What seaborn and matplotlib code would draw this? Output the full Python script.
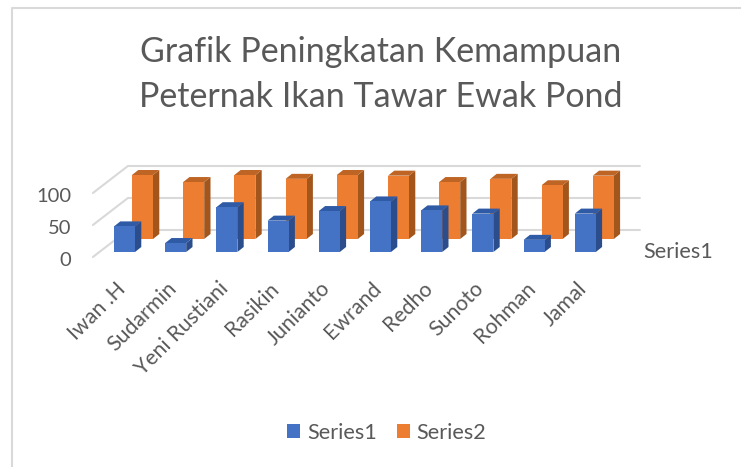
import matplotlib
matplotlib.use("Agg")
import matplotlib.pyplot as plt
import matplotlib.transforms as mtrans
from matplotlib.lines import Line2D
from matplotlib.patches import Patch, Polygon
import pandas as pd
import seaborn as sns

names = ["Iwan .H", "Sudarmin", "Yeni Rustiani", "Rasikin", "Junianto",
         "Ewrand", "Redho", "Sunoto", "Rohman", "Jamal"]
series1 = [40, 14, 70, 49, 64, 79, 65, 60, 19, 60]
series2 = [100, 89, 100, 94, 100, 99, 89, 94, 84, 99]
y_ticks = [0, 50, 100]

TEXT = "#595959"
GRID = "#D9D9D9"
FRONT = {"Series1": "#4472C4", "Series2": "#ED7D31"}
SIDE = {"Series1": "#2B4D8C", "Series2": "#A2561C"}
TOP = {"Series1": "#2F5AA6", "Series2": "#BE6424"}

sns.set_theme(style="white")
plt.rcParams["font.family"] = ["Lato", "DejaVu Sans"]

df = pd.DataFrame({"name": names * 2,
                   "value": series1 + series2,
                   "series": ["Series1"] * len(names) + ["Series2"] * len(names)})

W, H = 741, 467
fig = plt.figure(figsize=(W / 100, H / 100), dpi=100)
# the axes is the plane of the front bars: 51.2 px per category, 0.64 px per unit
ax = fig.add_axes([98.9 / W, (H - 252) / H, 512 / W, 152 / H])
px_x = 1 / 51.2
px_y = 1 / 0.64

sns.barplot(data=df, x="name", y="value", hue="series", order=names, dodge=False,
            width=0.41, saturation=1, palette=FRONT, legend=False, linewidth=0,
            edgecolor="none", ax=ax)
ax.set_xlim(-0.5, 9.5)
ax.set_ylim(0, 152 * px_y)


def add_depth(container, series, shift_x, shift_y, z):
    # move the front face to its row, then add the side and top faces
    dx, dy = 6.3 * px_x, 5 * px_y
    for bar in container:
        bar.set_x(bar.get_x() + shift_x)
        bar.set_y(bar.get_y() + shift_y)
        bar.set_zorder(z + 0.2)
        bar.set_clip_on(False)
        x0, x1 = bar.get_x(), bar.get_x() + bar.get_width()
        y0, y1 = bar.get_y(), bar.get_y() + bar.get_height()
        ax.add_patch(Polygon([(x1, y0), (x1 + dx, y0 + dy), (x1 + dx, y1 + dy), (x1, y1)],
                             fc=SIDE[series], ec="none", zorder=z, clip_on=False))
        ax.add_patch(Polygon([(x0, y1), (x0 + dx, y1 + dy), (x1 + dx, y1 + dy), (x1, y1)],
                             fc=TOP[series], ec="none", zorder=z + 0.1, clip_on=False))


add_depth(ax.containers[1], "Series2", 18 * px_x, 13 * px_y, 3)
add_depth(ax.containers[0], "Series1", 0, 0, 4)

# gridlines on the back wall and the left side wall
back_x, back_y = 29 * px_x, 22 * px_y
front_x, front_y = -6 * px_x, -5 * px_y
for v in y_ticks:
    ax.plot([-0.5 + front_x, -0.5 + back_x, 9.5 + back_x],
            [v + front_y, v + back_y, v + back_y],
            color=GRID, lw=1.5, zorder=1, clip_on=False)

sns.despine(ax=ax, left=True, bottom=True)
ax.set_xlabel("")
ax.set_ylabel("")
ax.set_yticks(y_ticks)
ax.tick_params(axis="y", length=0, pad=20, labelsize=14.5, labelcolor=TEXT)
ax.tick_params(axis="x", length=0, pad=19, labelsize=15.3, labelcolor=TEXT)
for label in ax.get_yticklabels():
    label.set_transform(label.get_transform()
                        + mtrans.ScaledTranslation(0, -7 / 100, fig.dpi_scale_trans))
ax.set_xticks(range(len(names)), names, rotation=45, ha="right", rotation_mode="anchor")
for label in ax.get_xticklabels():
    label.set_transform(label.get_transform()
                        + mtrans.ScaledTranslation(-9 / 100, 0, fig.dpi_scale_trans))

fig.text(643 / W, 1 - 252 / H, "Series1", color=TEXT, fontsize=15.6, ha="left", va="center")
fig.text(381 / W, 1 - 74.5 / H, "Grafik Peningkatan Kemampuan\nPeternak Ikan Tawar Ewak Pond",
         color=TEXT, fontsize=24.5, ha="center", va="center", linespacing=1.48)

handles = [Patch(fc=FRONT[s], ec="none") for s in FRONT]
fig.legend(handles, list(FRONT), ncols=2, loc="center", bbox_to_anchor=(387 / W, 1 - 433 / H),
           frameon=False, fontsize=15.6, labelcolor=TEXT, handlelength=0.6, handleheight=0.6,
           handletextpad=0.3, columnspacing=0.95)

# chart area border
fig.add_artist(Line2D([12 / W, 12 / W, 1], [0, 1 - 8 / H, 1 - 8 / H], color=GRID, lw=1.5))

fig.savefig("out.png", dpi=100)
